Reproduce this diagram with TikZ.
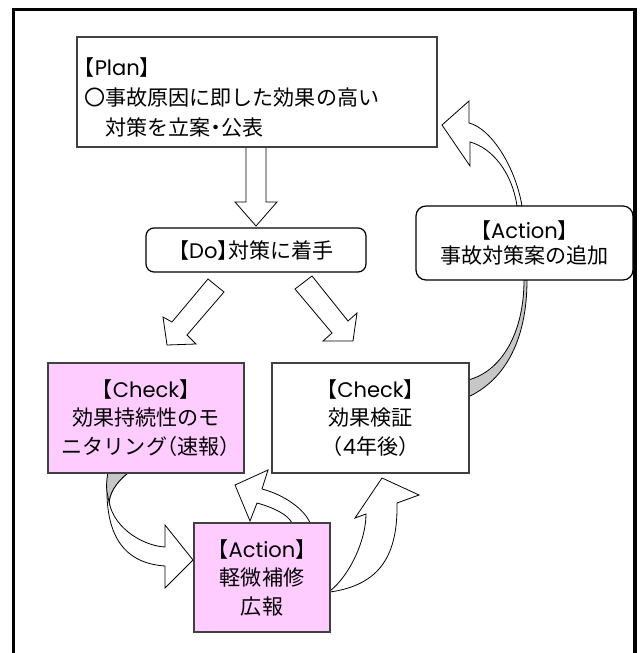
\documentclass[tikz,border=0pt]{standalone}
\usepackage{fontspec}
\setmainfont{Noto Sans CJK JP}[RawFeature=+halt]
\newfontfamily\latfont{Poppins}
\newcommand{\lt}[1]{{\latfont #1}}
\definecolor{pinkfill}{RGB}{255,204,255}
\begin{document}
\begin{tikzpicture}[x=0.75pt,y=-0.75pt,
  sqbox/.style={draw=black!75, line width=0.9pt, fill=white, inner sep=0pt, align=center},
  rbox/.style={draw=black, line width=0.9pt, rounded corners=6pt, fill=white, inner sep=0pt, align=center},
  blockarrow/.style={draw=black, line width=0.6pt, fill=white, line join=miter},
  backside/.style={draw=black, line width=0.6pt, fill=black!22},
  txt/.style={font=\fontsize{15.8pt}{21.4pt}\selectfont}]
\useasboundingbox (0,0) rectangle (641,653);
\clip (0,0) rectangle (641,653);
\fill[white] (0,0) rectangle (641,653);

% block arrows
\draw[blockarrow] (246,147) -- (266,147) -- (266,202) -- (277,202) -- (256,226) -- (235,202) -- (246,202) -- cycle;
\draw[blockarrow] (208,279) -- (224,292) -- (187,335) -- (196,344) -- (167,345) -- (163,317) -- (172,322) -- cycle;
\draw[blockarrow] (295,289) -- (312,276) -- (348,321) -- (357,313) -- (353,341) -- (323,341) -- (332,333) -- cycle;
\draw[blockarrow] (517,206) .. controls (512,172) and (492,148) .. (470,142) -- (470,166) -- (442,125) -- (469,101) -- (469,123) .. controls (490,128) and (515,165) .. (522,206) -- cycle;
\draw[backside] (524,280) .. controls (524,335) and (500,372) .. (468,380) -- (468,397) .. controls (505,380) and (527,340) .. (527,280) -- cycle;
\draw[blockarrow] (107.7,473) .. controls (103,530) and (120,563) .. (165,566) -- (165,588) -- (193,560) -- (165,525) -- (165,547) .. controls (145,546) and (115,530) .. (109.3,503) .. controls (109,495) and (115,483) .. (128,473) -- cycle;
\draw[backside] (107.7,473) .. controls (106,488) .. (109.3,503) .. controls (109,495) and (115,483) .. (128,473) -- cycle;
\draw[blockarrow] (292,523) .. controls (288,515) and (275,508) .. (257,503) -- (250,521) -- (235,485) -- (268,470) -- (262,489) .. controls (285,495) and (305,510) .. (310,523) -- cycle;
\draw[blockarrow] (330,591) .. controls (350,575) and (366,540) .. (366,514) -- (355,518) -- (382,478) -- (419,495) -- (397,503) .. controls (398,555) and (380,585) .. (330,592) -- cycle;

% boxes
\node[sqbox, minimum width=270pt, minimum height=82.5pt] (plan) at (257,92) {};
\node[txt, anchor=west, align=left, inner sep=0pt, font=\fontsize{15.8pt}{22.5pt}\selectfont] (plantext) at (84,97)
  {【\lt{Plan}】\\〇事故原因に即した効果の高い\\\hspace*{1em}対策を立案・公表};
\node[rbox, txt, minimum width=165pt, minimum height=33pt] (do) at (256,250) {【\lt{Do}】対策に着手};
\node[rbox, minimum width=162.75pt, minimum height=55.5pt, rounded corners=7.5pt,
  font=\fontsize{15.8pt}{19pt}\selectfont] (actr) at (524.5,243) {【\lt{Action}】\\事故対策案の追加};
\node[sqbox, txt, fill=pinkfill, minimum width=147pt, minimum height=82.5pt] (checkl) at (146,418)
  {【\lt{Check}】\\効果持続性のモ\\ニタリング（速報）};
\node[sqbox, txt, minimum width=147.75pt, minimum height=82.5pt] (checkr) at (370.5,418)
  {【\lt{Check}】\\効果検証\\（\lt{4}年後）};
\node[sqbox, txt, fill=pinkfill, minimum width=102pt, minimum height=81.75pt] (actb) at (262,577.5)
  {【\lt{Action}】\\軽微補修\\広報};

% frame
\draw[line width=2.6pt] (13.5,9.5) rectangle (635,700);
\end{tikzpicture}
\end{document}
